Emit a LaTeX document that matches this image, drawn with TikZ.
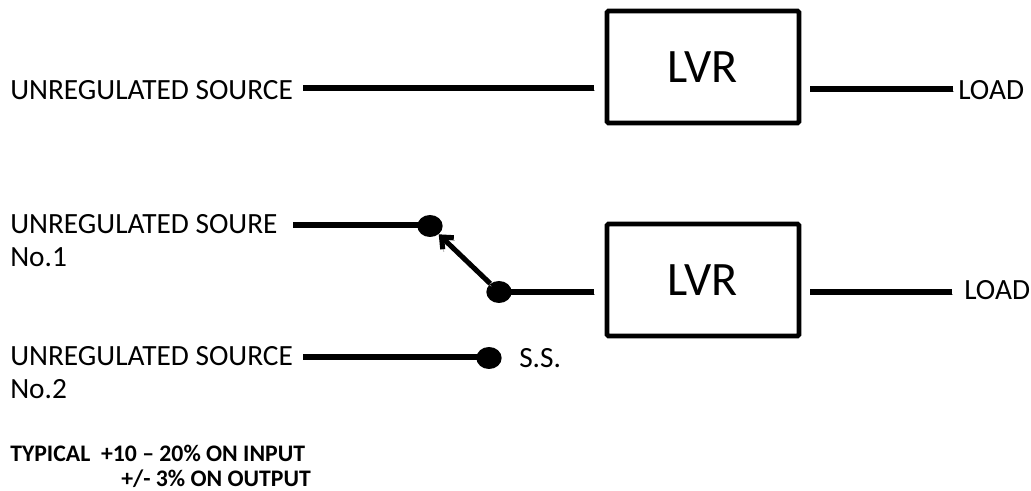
\documentclass[tikz,border=0pt]{standalone}
\usepackage{fontspec}
\setmainfont{Carlito}
\usetikzlibrary{shapes.geometric,arrows.meta}
\tikzset{
    wire/.style={line width=3.8pt,preaction={draw=black!40,transform canvas={shift={(0.8pt,-2pt)}}}},
    lvrbox/.style={draw,line width=3.4pt,rounded corners=1pt,minimum width=144pt,minimum height=84pt,inner sep=0pt,font=\fontsize{36}{36}\selectfont},
    lbl/.style={anchor=west,inner sep=0pt,font=\fontsize{22}{22}\selectfont},
    note/.style={anchor=west,inner sep=0pt,font=\fontsize{17.8}{17.8}\selectfont\bfseries},
    contact/.style={fill=black,ellipse,minimum width=19pt,minimum height=16.5pt,inner sep=0pt}
}
\begin{document}
\begin{tikzpicture}[x=0.75pt,y=-0.75pt]
    \useasboundingbox (0,0) rectangle (1031,491);
    % top row
    \node[lvrbox] (lvrA) at (703,67) {LVR};
    \node[lbl] (srcA) at (10,90) {UNREGULATED SOURCE};
    \node[lbl] (loadA) at (958,90) {LOAD};
    \coordinate (srcAend) at (303,88);
    \coordinate (lvrAin) at (594,88);
    \coordinate (lvrAout) at (810,89);
    \coordinate (loadAend) at (953,89);
    \draw[wire] (srcAend) -- (lvrAin);
    \draw[wire] (lvrAout) -- (loadAend);
    % switched row
    \node[lvrbox] (lvrB) at (703,280) {LVR};
    \node[lbl] (srcB) at (10,224) {UNREGULATED SOURE};
    \node[lbl] (noB) at (10,257) {No.1};
    \node[lbl] (srcC) at (10,356) {UNREGULATED SOURCE};
    \node[lbl] (noC) at (10,389) {No.2};
    \node[lbl] (loadB) at (964,290) {LOAD};
    \node[lbl] (ss) at (519,358) {S.S.};
    \coordinate (srcBend) at (293,225);
    \coordinate (srcCend) at (303,357);
    \coordinate (lvrBin) at (594,292);
    \coordinate (lvrBout) at (810,292);
    \coordinate (loadBend) at (952,292);
    \draw[wire] (srcBend) -- (430,225);
    \draw[wire] (499,292) -- (lvrBin);
    \draw[wire] (srcCend) -- (489,357);
    \draw[wire] (lvrBout) -- (loadBend);
    \node[contact] (dotA) at (430,226) {};
    \node[contact] (dotB) at (499,292) {};
    \node[contact] (dotC) at (489,358) {};
    \draw[wire,-{Straight Barb[length=7pt,width=12pt]}] (dotB) -- (dotA);
    % note
    \node[note] (noteA) at (10,453) {TYPICAL\ \ +10 – 20\% ON INPUT};
    \node[note] (noteB) at (121,479) {+/- 3\% ON OUTPUT};
\end{tikzpicture}
\end{document}
